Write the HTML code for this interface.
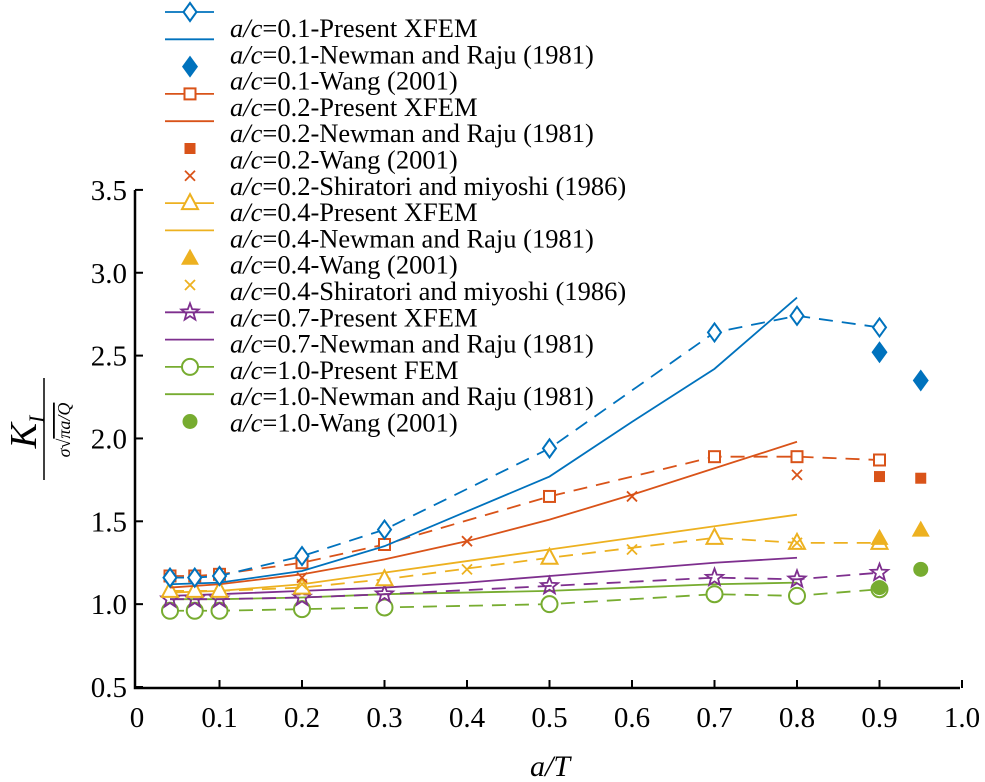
<!DOCTYPE html>
<html><head><meta charset="utf-8"><style>
body{margin:0;background:#fff}
svg{display:block}
svg text, svg tspan{font-family:"Liberation Serif","Noto Serif CJK SC","DejaVu Serif",serif}
</style></head><body>
<svg id="chart" width="985" height="782" viewBox="0 0 985 782" xmlns="http://www.w3.org/2000/svg">
<g id="legend"></g>
<g id="plot"></g>
<g id="axes"></g>
<text x="550" y="776" font-size="30" font-style="italic" text-anchor="middle">a/T</text>
<g>
<text transform="translate(36,432) rotate(-90)" font-size="38" font-style="italic" text-anchor="middle">K<tspan font-size="22" dy="8">I</tspan></text>
<line x1="44" y1="378" x2="44" y2="480" stroke="#000" stroke-width="1.5"/>
<text transform="translate(70,430) rotate(-90)" font-size="18" font-style="italic" text-anchor="middle">σ√<tspan text-decoration="overline">πa/Q</tspan></text>
</g>
</svg>
<script>
const NS="http://www.w3.org/2000/svg";
const xTicks=[0,0.1,0.2,0.3,0.4,0.5,0.6,0.7,0.8,0.9,1.0];
const xTickLabels=["0","0.1","0.2","0.3","0.4","0.5","0.6","0.7","0.8","0.9","1.0"];
const yTicks=[0.5,1.0,1.5,2.0,2.5,3.0,3.5];
const yTickLabels=["0.5","1.0","1.5","2.0","2.5","3.0","3.5"];
const xA=[0.04,0.07,0.1,0.2,0.3,0.5,0.7,0.8,0.9];
const xN=[0.04,0.1,0.2,0.3,0.4,0.5,0.6,0.7,0.8];
const xW=[0.9,0.95];
const xS=[0.2,0.4,0.6,0.8];
const xfem01=[1.16,1.16,1.17,1.29,1.45,1.94,2.64,2.74,2.67];
const newman01=[1.12,1.13,1.2,1.35,1.56,1.77,2.1,2.42,2.85];
const wang01=[2.52,2.35];
const xfem02=[1.17,1.17,1.18,1.25,1.36,1.65,1.89,1.89,1.87];
const newman02=[1.1,1.12,1.18,1.27,1.38,1.51,1.66,1.82,1.98];
const wang02=[1.77,1.76];
const shir02=[1.16,1.38,1.65,1.78];
const xfem04=[1.08,1.08,1.08,1.1,1.15,1.28,1.4,1.37,1.37];
const newman04=[1.07,1.075,1.08,1.12,1.19,1.26,1.33,1.4,1.47,1.54];
const xN04=[0.04,0.07,0.1,0.2,0.3,0.4,0.5,0.6,0.7,0.8];
const wang04=[1.4,1.45];
const shir04=[1.12,1.21,1.33,1.37];
const xfem07=[1.03,1.03,1.03,1.04,1.06,1.11,1.16,1.15,1.19];
const newman07=[1.05,1.06,1.08,1.1,1.13,1.17,1.21,1.25,1.28];
const xfem10=[0.96,0.96,0.96,0.97,0.98,1.0,1.06,1.05,1.09];
const newman10=[1.03,1.03,1.04,1.06,1.07,1.08,1.1,1.12,1.13];
const wang10=[1.1,1.21];
const C={b:"#0072BD",r:"#D95319",y:"#EDB120",p:"#7E2F8E",g:"#77AC30"};
const X=v=>137+825*v, Y=v=>687-(v-0.5)*165.7;
function mk(tag,attrs,parent){const e=document.createElementNS(NS,tag);for(const k in attrs)e.setAttribute(k,attrs[k]);parent.appendChild(e);return e;}
function marker(type,cx,cy,col,parent,name){
 let e;
 if(type==="diamond")e=mk("polygon",{points:`${cx},${cy-9} ${cx+6.5},${cy} ${cx},${cy+9} ${cx-6.5},${cy}`,fill:"#fff",stroke:col,"stroke-width":2},parent);
 else if(type==="fdiamond")e=mk("polygon",{points:`${cx},${cy-11} ${cx+8},${cy} ${cx},${cy+11} ${cx-8},${cy}`,fill:col},parent);
 else if(type==="square")e=mk("rect",{x:cx-5.5,y:cy-5.5,width:11,height:11,fill:"#fff",stroke:col,"stroke-width":2},parent);
 else if(type==="fsquare")e=mk("rect",{x:cx-5.5,y:cy-5.5,width:11,height:11,fill:col},parent);
 else if(type==="tri")e=mk("polygon",{points:`${cx},${cy-9} ${cx+8},${cy+6} ${cx-8},${cy+6}`,fill:"#fff",stroke:col,"stroke-width":2},parent);
 else if(type==="ftri")e=mk("polygon",{points:`${cx},${cy-9} ${cx+9},${cy+7} ${cx-9},${cy+7}`,fill:col},parent);
 else if(type==="circle")e=mk("circle",{cx:cx,cy:cy,r:8,fill:"#fff",stroke:col,"stroke-width":2},parent);
 else if(type==="fcircle")e=mk("circle",{cx:cx,cy:cy,r:7.5,fill:col},parent);
 else if(type==="x")e=mk("path",{d:`M${cx-5},${cy-5}L${cx+5},${cy+5}M${cx+5},${cy-5}L${cx-5},${cy+5}`,stroke:col,"stroke-width":1.8,fill:"none"},parent);
 else if(type==="star"){let p=[];for(let i=0;i<10;i++){const a=-Math.PI/2+i*Math.PI/5,r=i%2?3.8:9;p.push((cx+r*Math.cos(a)).toFixed(1)+","+(cy+r*Math.sin(a)).toFixed(1));}
  e=mk("polygon",{points:p.join(" "),fill:"none",stroke:col,"stroke-width":1.8},parent);}
 
 
 return e;
}
const plot=document.getElementById("plot"),axes=document.getElementById("axes"),legend=document.getElementById("legend");
function line(xs,ys,col,dash,name){
 const e=mk("polyline",{points:xs.map((x,i)=>X(x)+","+Y(ys[i])).join(" "),fill:"none",stroke:col,"stroke-width":1.8},plot);
 if(dash)e.setAttribute("stroke-dasharray","14,9");
 
 
}
function pts(xs,ys,type,col,name){xs.forEach((x,i)=>marker(type,X(x),Y(ys[i]),col,plot,name));}
line(xN,newman10,C.g,false,"newman-ac10-line");
line(xA,xfem10,C.g,true,"fem-ac10-line");pts(xA,xfem10,"circle",C.g,"fem-ac10-point");
pts(xW,wang10,"fcircle",C.g,"wang-ac10-point");
line(xN,newman07,C.p,false,"newman-ac07-line");
line(xA,xfem07,C.p,true,"xfem-ac07-line");pts(xA,xfem07,"star",C.p,"xfem-ac07-point");
line(xN04,newman04,C.y,false,"newman-ac04-line");
line(xA,xfem04,C.y,true,"xfem-ac04-line");pts(xA,xfem04,"tri",C.y,"xfem-ac04-point");
pts(xW,wang04,"ftri",C.y,"wang-ac04-point");pts(xS,shir04,"x",C.y,"shiratori-ac04-point");
line(xN,newman02,C.r,false,"newman-ac02-line");
line(xA,xfem02,C.r,true,"xfem-ac02-line");pts(xA,xfem02,"square",C.r,"xfem-ac02-point");
pts(xW,wang02,"fsquare",C.r,"wang-ac02-point");pts(xS,shir02,"x",C.r,"shiratori-ac02-point");
line(xN,newman01,C.b,false,"newman-ac01-line");
line(xA,xfem01,C.b,true,"xfem-ac01-line");pts(xA,xfem01,"diamond",C.b,"xfem-ac01-point");
pts(xW,wang01,"fdiamond",C.b,"wang-ac01-point");
const ax=mk("path",{d:"M135,190V688H960",stroke:"#000","stroke-width":2.5,fill:"none"},axes);


xTicks.forEach((t,i)=>{
 if(i>0){const tk=mk("line",{x1:X(t),y1:688,x2:X(t),y2:680,stroke:"#000","stroke-width":2},axes);
 
 }
 const tl=mk("text",{x:X(t),y:727,"font-size":29,"text-anchor":"middle"},axes);tl.textContent=xTickLabels[i];
 
 
});
yTicks.forEach((t,i)=>{
 const tk=mk("line",{x1:135,y1:Y(t),x2:143,y2:Y(t),stroke:"#000","stroke-width":2},axes);
 
 
 const tl=mk("text",{x:127,y:Y(t)+10,"font-size":29,"text-anchor":"end"},axes);tl.textContent=yTickLabels[i];
 
 
});
const legLabels=["=0.1-Present XFEM","=0.1-Newman and Raju (1981)","=0.1-Wang (2001)","=0.2-Present XFEM","=0.2-Newman and Raju (1981)","=0.2-Wang (2001)","=0.2-Shiratori and miyoshi (1986)","=0.4-Present XFEM","=0.4-Newman and Raju (1981)","=0.4-Wang (2001)","=0.4-Shiratori and miyoshi (1986)","=0.7-Present XFEM","=0.7-Newman and Raju (1981)","=1.0-Present FEM","=1.0-Newman and Raju (1981)","=1.0-Wang (2001)"];
const legStyle=[["diamond",C.b,1],[null,C.b,1],["fdiamond",C.b,0],["square",C.r,1],[null,C.r,1],["fsquare",C.r,0],["x",C.r,0],["tri",C.y,1],[null,C.y,1],["ftri",C.y,0],["x",C.y,0],["star",C.p,1],[null,C.p,1],["circle",C.g,1],[null,C.g,1],["fcircle",C.g,0]];
legLabels.forEach((lab,i)=>{
 const g=mk("g",{},legend);
 
 
 const my=12+27.3*i, ty=37+26.3*i;
 const [m,col,ln]=legStyle[i];
 if(ln)mk("line",{x1:165,y1:my,x2:214,y2:my,stroke:col,"stroke-width":1.8},g);
 if(m)marker(m,190,my,col,g,"legend-marker");
 const t=mk("text",{x:230,y:ty,"font-size":26.5},g);
 const it=mk("tspan",{"font-style":"italic"},t);it.textContent="a/c";
 t.appendChild(document.createTextNode(lab));
});
</script>
</body></html>
